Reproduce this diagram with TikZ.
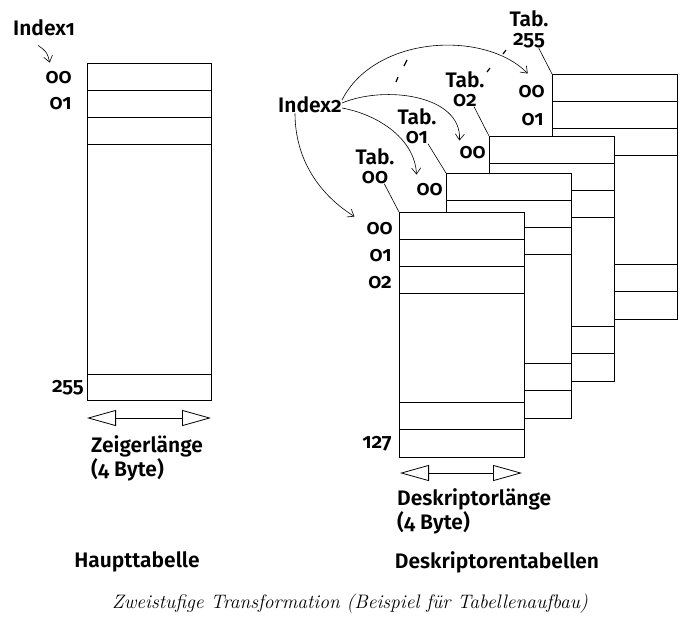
\documentclass[tikz,border=0pt]{standalone}
\usepackage{fontspec}
\newfontfamily\labfont{Fira Sans}[Numbers=OldStyle, BoldFont={Fira Sans SemiBold}]
\usetikzlibrary{arrows.meta}
\usetikzlibrary{positioning}

\tikzset{
    lab/.style={font={\labfont\bfseries\fontsize{21}{19}\selectfont}, inner sep=0pt, align=center},
    num/.style={lab, anchor=east},
    note/.style={font={\labfont\bfseries\fontsize{21}{24}\selectfont}, inner sep=0pt, align=left, anchor=north west},
    tab/.style={line width=0.8pt},
    arr/.style={-{Straight Barb[length=6pt,width=9pt]}, line width=0.6pt},
    len/.style={{Triangle[open,length=29pt,width=16pt]}-{Triangle[open,length=29pt,width=16pt]}, line width=0.8pt}
}

\begin{document}
\begin{tikzpicture}[x=1pt, y=-1pt]
    \useasboundingbox (0,0) rectangle (695,630);

    % Haupttabelle
    \draw[tab] (87,63) rectangle (211,400);
    \foreach \r in {90,117,144,374}{
        \draw[tab] (87,\r) -- (211,\r);
    }
    \draw (44,28) node[lab] (idx1) {Index1};
    \draw (72,78) node[num] (m00) {00};
    \draw (72,104) node[num] (m01) {01};
    \draw (84,388) node[num] (m255) {255};
    \draw[arr] ([xshift=-6pt,yshift=-9pt]idx1.south) .. controls (47,52) .. ([xshift=-9pt,yshift=9pt]m00.north);

    \coordinate (ml) at (87,418);
    \coordinate (mr) at (211,418);
    \draw[len] (ml) -- (mr);
    \draw (91,435) node[note] (zl) {Zeigerlänge\\(4 Byte)};
    \draw (137,562) node[lab] (haupt) {Haupttabelle};

    % Deskriptorentabellen, hinten zuerst
    \foreach \x/\y/\t in {552/74/3, 489/136/2, 446/173/1, 399/212/0}{
        \draw[tab, fill=white] (\x,\y) rectangle +(125,245);
        \foreach \r in {27.2,54.4,81.6,190.4,217.6}{
            \draw[tab] (\x,\y+\r) -- +(125,0);
        }
        \coordinate (c\t) at (\x,\y);
    }

    \draw (393,229) node[num] (t0a) {00};
    \draw (392,256) node[num] (t0b) {01};
    \draw (392,283) node[num] (t0c) {02};
    \draw (392,444) node[num] (t0z) {127};
    \draw (443,190) node[num] (t1a) {00};
    \draw (486,153) node[num] (t2a) {00};
    \draw (545,92) node[num] (t3a) {00};
    \draw (544,120) node[num] (t3b) {01};

    \draw (375,166) node[lab] (tab0) {Tab.\\00};
    \draw (417,126) node[lab] (tab1) {Tab.\\01};
    \draw (465,89) node[lab] (tab2) {Tab.\\02};
    \draw (529,29) node[lab] (tab3) {Tab.\\255};
    \foreach \t in {0,1,2,3}{
        \draw[line width=0.6pt] (tab\t) -- (c\t);
    }

    \draw (310,105) node[lab] (idx2) {Index2};
    \draw[arr] ([yshift=5pt]idx2.east) .. controls (375,35) and (485,30) .. ([xshift=-4pt,yshift=12pt]t3a.north);
    \draw[arr] ([yshift=2pt]idx2.east) .. controls (385,85) and (462,95) .. ([yshift=6pt]t2a.north west);
    \draw[arr] ([yshift=-3pt]idx2.east) .. controls (380,115) and (415,140) .. ([yshift=9pt]t1a.north west);
    \draw[arr] ([xshift=-15pt]idx2.south) .. controls (295,160) and (320,195) .. ([xshift=-12pt,yshift=6pt]t0a.north west);

    % Auslassung
    \foreach \a/\b/\c/\d in {407/60/404/66, 398/77/396/82, 506/50/503/54, 490/68/487/72}{
        \draw[line width=1.2pt] (\a,\b) -- (\c,\d);
    }

    \coordinate (dl) at (400,473);
    \coordinate (dr) at (522,473);
    \draw[len] (dl) -- (dr);
    \draw (397,488) node[note] (dlen) {Deskriptorlänge\\(4 Byte)};
    \draw (497,562) node[lab] (deskr) {Deskriptorentabellen};

    \draw (350,604) node[font=\itshape\fontsize{19.5}{19.5}\selectfont, inner sep=0pt] (capt) {Zweistufige Transformation (Beispiel für Tabellenaufbau)};
\end{tikzpicture}
\end{document}
